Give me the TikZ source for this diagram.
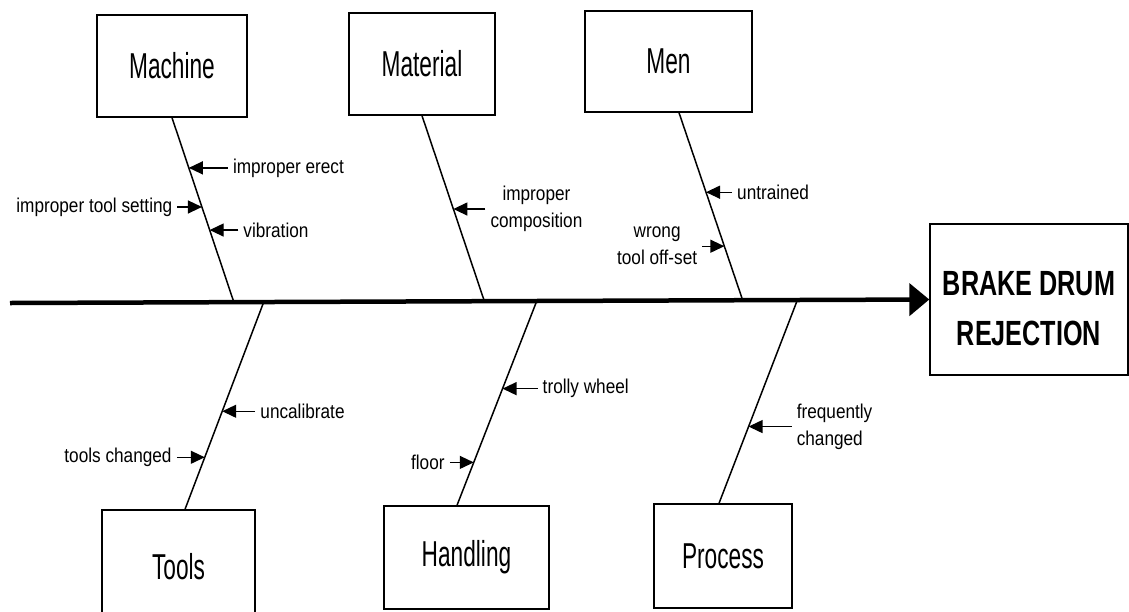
\documentclass[tikz,border=0pt]{standalone}
\usepackage{fontspec}
\setmainfont{Liberation Sans}
\newfontfamily\boxfont[FakeStretch=0.63]{Liberation Sans}
\newfontfamily\causefont[FakeStretch=0.86]{Liberation Sans}
\newfontfamily\effectfont[FakeStretch=0.72]{Liberation Sans}
\usetikzlibrary{arrows.meta,positioning}
\tikzset{cat box/.style={rectangle,draw,line width=1.4pt,inner sep=0pt,font=\boxfont\fontsize{36}{40}\selectfont},
         effect box/.style={rectangle,draw,line width=1.4pt,inner sep=0pt},
         effect text/.style={inner sep=0pt,align=center,font=\effectfont\bfseries\fontsize{35}{50}\selectfont},
         cause label/.style={inner xsep=5pt,inner ysep=2pt,align=center,font=\causefont\fontsize{20}{27}\selectfont},
         rib/.style={line width=1.5pt},
         spine/.style={line width=4.5pt,-{Triangle[length=20pt,width=32pt]}},
         cause arrow/.style={line width=1.3pt,-{Triangle[length=14pt,width=13pt]}}
}

\begin{document}
\begin{tikzpicture}[x=1pt,y=-1pt]
\useasboundingbox (0,0) rectangle (1129,611);

% categories
\node [cat box, minimum width=150pt, minimum height=102pt] (machine) at (172,66) {Machine};
\node [cat box, minimum width=146pt, minimum height=102pt] (material) at (422,64) {Material};
\node [cat box, minimum width=167pt, minimum height=101pt] (men) at (668.5,61.5) {Men};
\node [cat box, minimum width=153pt, minimum height=114pt] (tools) at (178.5,567) {Tools};
\node [cat box, minimum width=165pt, minimum height=103pt] (handling) at (466.5,557.5) {Handling};
\node [cat box, minimum width=138pt, minimum height=104pt] (process) at (723,556) {Process};

% effect
\node [effect box, minimum width=198pt, minimum height=151pt] (effect) at (1029,299.5) {};
\node [effect text] (effect text) at ([yshift=-9pt]effect.center) {BRAKE DRUM\\REJECTION};

% spine
\coordinate (spine start) at (10,303);
\draw [spine] (spine start) -- (effect.west);
\path (spine start) -- (effect.west)
    coordinate[pos=0.2435] (machine foot)
    coordinate[pos=0.516] (material foot)
    coordinate[pos=0.797] (men foot)
    coordinate[pos=0.276] (tools foot)
    coordinate[pos=0.573] (handling foot)
    coordinate[pos=0.8565] (process foot);

% ribs
\coordinate (men top) at ([xshift=10.5pt]men.south);
\coordinate (tools end) at ([xshift=6.5pt]tools.north);
\coordinate (handling end) at ([xshift=-9.5pt]handling.north);
\coordinate (process end) at ([xshift=-4pt]process.north);
\draw [rib] (machine.south) -- (machine foot);
\draw [rib] (material.south) -- (material foot);
\draw [rib] (men top) -- (men foot);
\draw [rib] (tools foot) -- (tools end);
\draw [rib] (handling foot) -- (handling end);
\draw [rib] (process foot) -- (process end);

\path (machine.south) -- (machine foot)
    coordinate[pos=0.272] (m1) coordinate[pos=0.484] (m2) coordinate[pos=0.609] (m3);
\path (material.south) -- (material foot) coordinate[pos=0.503] (t1);
\path (men top) -- (men foot) coordinate[pos=0.424] (n1) coordinate[pos=0.712] (n2);
\path (tools foot) -- (tools end) coordinate[pos=0.527] (o1) coordinate[pos=0.749] (o2);
\path (handling foot) -- (handling end) coordinate[pos=0.429] (h1) coordinate[pos=0.79] (h2);
\path (process foot) -- (process end) coordinate[pos=0.6225] (p1);

% causes
\node [cause label, right=39pt of m1] (m1 text) {improper erect};
\node [cause label, left=24.5pt of m2] (m2 text) {improper tool setting};
\node [cause label, right=28.6pt of m3] (m3 text) {vibration};
\node [cause label, right=32pt of t1] (t1 text) {improper\\composition};
\node [cause label, right=26pt of n1] (n1 text) {untrained};
\node [cause label, left=22pt of n2] (n2 text) {wrong\\tool off-set};
\node [cause label, right=33pt of o1] (o1 text) {uncalibrate};
\node [cause label, left=28pt of o2] (o2 text) {tools changed};
\node [cause label, right=35pt of h1] (h1 text) {trolly wheel};
\node [cause label, left=24pt of h2] (h2 text) {floor};
\node [cause label, align=left, right=43pt of p1] (p1 text) {frequently\\changed};

\foreach \c in {m1,m2,m3,t1,n1,n2,o1,o2,h1,h2,p1}
    \draw [cause arrow] (\c\space text) -- (\c);
\end{tikzpicture}
\end{document}
